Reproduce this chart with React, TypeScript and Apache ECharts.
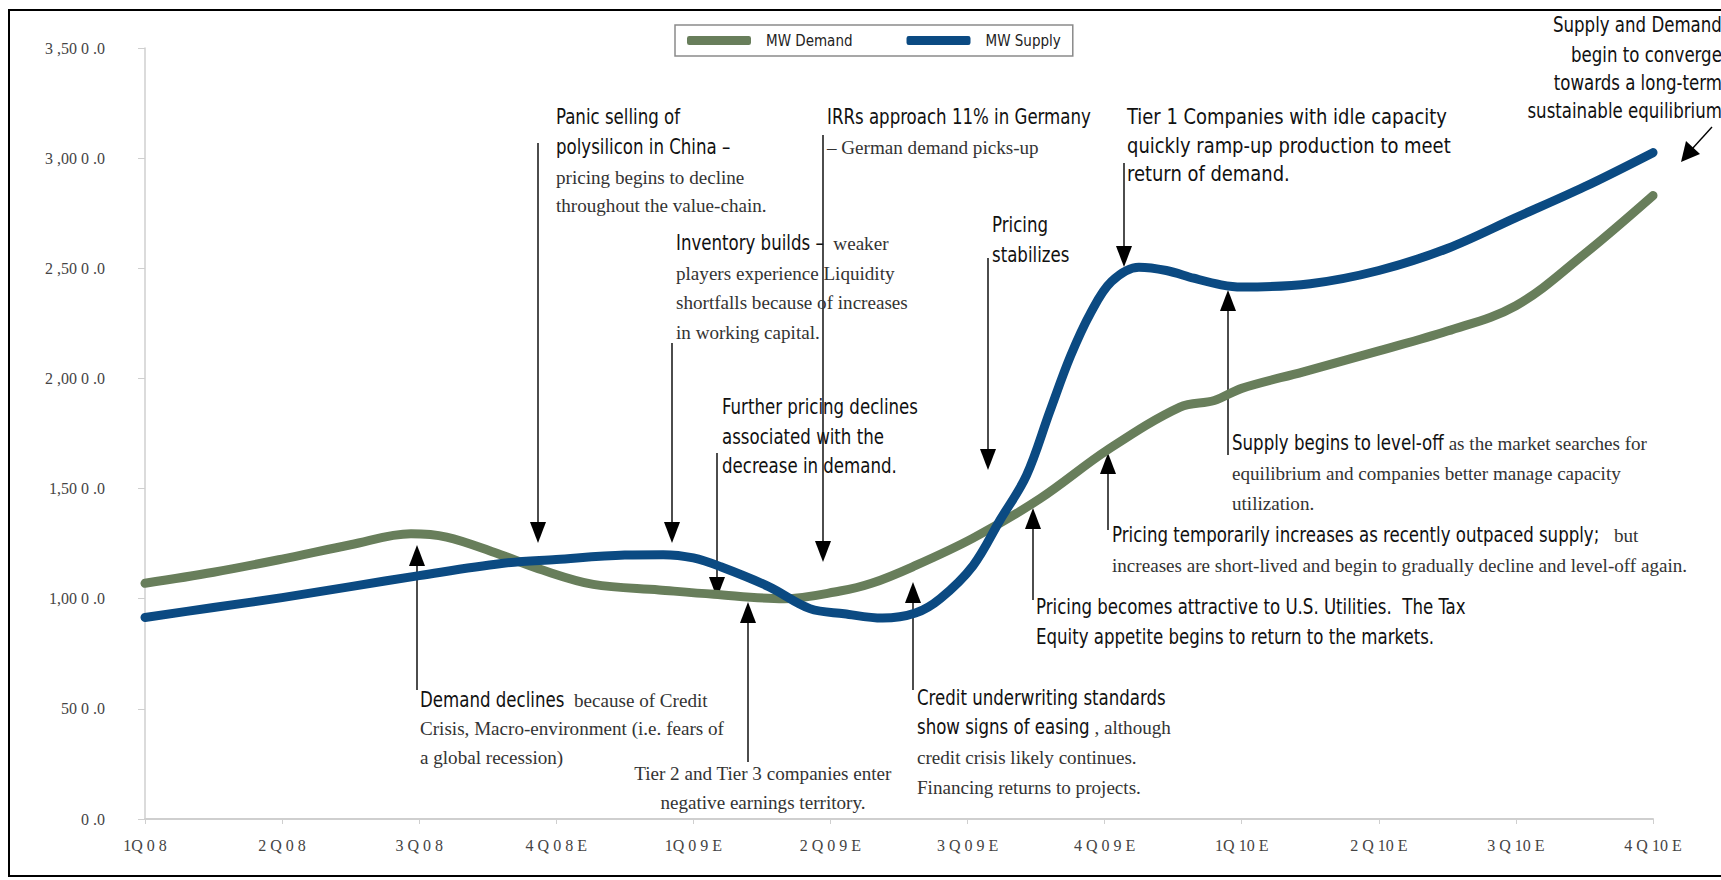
import React, { useEffect, useRef } from "react";
import * as echarts from "echarts";

// ---------- data ----------
const quarterLabels = [
  "1Q 0 8", "2 Q 0 8", "3 Q 0 8", "4 Q 0 8 E", "1Q 0 9 E", "2 Q 0 9 E",
  "3 Q 0 9 E", "4 Q 0 9 E", "1Q 10 E", "2 Q 10 E", "3 Q 10 E", "4 Q 10 E",
];
const yTickValues = [0, 500, 1000, 1500, 2000, 2500, 3000, 3500];
const yTickTexts = ["0 .0", "50 0 .0", "1,00 0 .0", "1,50 0 .0", "2 ,00 0 .0", "2 ,50 0 .0", "3 ,00 0 .0", "3 ,50 0 .0"];

// position in quarters from 1Q08 (0) to 4Q10E (11)
const demandPos = [0, 0.5, 1, 1.5, 1.94, 2.2, 2.55, 2.9, 3.27, 3.75, 4.15, 4.66, 5.07, 5.3, 5.6, 6.04, 6.53, 7.02, 7.55, 7.8, 8, 8.45, 9, 9.5, 10, 10.5, 11];
const demandMW = [1070, 1120, 1180, 1245, 1295, 1280, 1210, 1130, 1065, 1040, 1020, 1000, 1035, 1070, 1145, 1275, 1455, 1675, 1870, 1900, 1955, 2030, 2125, 2215, 2330, 2565, 2830];

const supplyPos = [0, 0.5, 1, 1.5, 2, 2.6, 3, 3.5, 3.78, 4, 4.2, 4.55, 4.85, 5.1, 5.38, 5.62, 5.8, 6.04, 6.24, 6.43, 6.6, 6.75, 6.9, 7.05, 7.25, 7.45, 7.65, 7.85, 8, 8.5, 9, 9.5, 10, 10.5, 11];
const supplyMW = [915, 960, 1005, 1055, 1105, 1160, 1178, 1198, 1200, 1185, 1145, 1055, 955, 932, 912, 935, 1000, 1150, 1360, 1560, 1850, 2100, 2300, 2440, 2505, 2490, 2455, 2425, 2415, 2430, 2490, 2590, 2730, 2870, 3025];

const seriesNames = ["MW Demand", "MW Supply"];
const seriesColors = ["#687e5b", "#0b4a82"];

// ---------- annotation texts ----------
type Seg = [string, string]; // [style, text]  h = headline sans, s = serif
const annPanic: Seg[][] = [[["h", "Panic selling of"]], [["h", "polysilicon in China –"]], [["s", "pricing begins to decline"]], [["s", "throughout the value-chain."]]];
const annIRR: Seg[][] = [[["h", "IRRs approach 11% in Germany"]], [["s", "– German demand picks-up"]]];
const annTier1: Seg[][] = [[["h", "Tier 1 Companies with idle capacity"]], [["h", "quickly ramp-up production to meet"]], [["h", "return of demand."]]];
const annConverge: Seg[][] = [[["h", "Supply and Demand"]], [["h", "begin to converge"]], [["h", "towards a long-term"]], [["h", "sustainable equilibrium"]]];
const annStabil: Seg[][] = [[["h", "Pricing"]], [["h", "stabilizes"]]];
const annInventory: Seg[][] = [[["h", "Inventory builds –"], ["s", "  weaker"]], [["s", "players experience Liquidity"]], [["s", "shortfalls because of increases"]], [["s", "in working capital."]]];
const annFurther: Seg[][] = [[["h", "Further pricing declines"]], [["h", "associated with the"]], [["h", "decrease in demand."]]];
const annLevel: Seg[][] = [[["h", "Supply begins to level-off"], ["s", " as the market searches for"]], [["s", "equilibrium and companies better manage capacity"]], [["s", "utilization."]]];
const annTemp: Seg[][] = [[["h", "Pricing temporarily increases as recently outpaced supply;"], ["s", "   but"]], [["s", "increases are short-lived and begin to gradually decline and level-off again."]]];
const annUtil: Seg[][] = [[["h", "Pricing becomes attractive to U.S. Utilities.  The Tax"]], [["h", "Equity appetite begins to return to the markets."]]];
const annCredit: Seg[][] = [[["h", "Credit underwriting standards"]], [["h", "show signs of easing"], ["s", " , although"]], [["s", "credit crisis likely continues."]], [["s", "Financing returns to projects."]]];
const annDemand: Seg[][] = [[["h", "Demand declines"], ["s", "  because of Credit"]], [["s", "Crisis, Macro-environment (i.e. fears of"]], [["s", "a global recession)"]]];
const annTier2: Seg[][] = [[["s", "Tier 2 and Tier 3 companies enter"]], [["s", "negative earnings territory."]]];

const HFONT = "'Liberation Sans Narrow', 'DejaVu Sans Condensed', 'Roboto Condensed', sans-serif";
const SFONT = "'Liberation Serif', 'DejaVu Serif', serif";
const STYLES: Record<string, { family: string; size: number; fill: string; sx: number }> = {
  h: { family: HFONT, size: 21, fill: "#111", sx: 0.88 },
  s: { family: SFONT, size: 19.5, fill: "#333", sx: 0.98 },
};

let measureCtx: CanvasRenderingContext2D | null = null;
function measure(text: string, st: { family: string; size: number }): number {
  if (!measureCtx) measureCtx = document.createElement("canvas").getContext("2d");
  if (!measureCtx) return text.length * st.size * 0.5;
  measureCtx.font = `${st.size}px ${st.family}`;
  return measureCtx.measureText(text).width;
}

function textBlock(lines: Seg[][], x: number, ys: number[], align: string = "left", hScale?: number): any[] {
  const out: any[] = [];
  lines.forEach((segs, i) => {
    const widths = segs.map(([st, t]) => {
      const s = STYLES[st];
      const sx = st === "h" && hScale ? hScale : s.sx;
      return measure(t, s) * sx;
    });
    const total = widths.reduce((a, b) => a + b, 0);
    let cx = align === "right" ? x - total : align === "center" ? x - total / 2 : x;
    segs.forEach(([st, t], j) => {
      const s = STYLES[st];
      const sx = st === "h" && hScale ? hScale : s.sx;
      out.push({
        type: "text",
        silent: true,
        x: cx,
        y: ys[i],
        scaleX: sx,
        style: {
          x: 0,
          y: 0,
          text: t,
          fontFamily: s.family,
          fontSize: s.size,
          fill: s.fill,
          align: "left",
          verticalAlign: "middle",
        },
      });
      cx += widths[j];
    });
  });
  return out;
}

function arrow(x: number, yFrom: number, yTip: number): any[] {
  const dir = yTip > yFrom ? 1 : -1;
  const hh = 21;
  const hw = 8;
  return [
    { type: "line", silent: true, shape: { x1: x, y1: yFrom, x2: x, y2: yTip - dir * hh }, style: { stroke: "#000", lineWidth: 1.4 } },
    { type: "polygon", silent: true, shape: { points: [[x - hw, yTip - dir * hh], [x + hw, yTip - dir * hh], [x, yTip]] }, style: { fill: "#000" } },
  ];
}

const frameLine = (x1: number, y1: number, x2: number, y2: number) => ({
  type: "line", silent: true, shape: { x1, y1, x2, y2 }, style: { stroke: "#000", lineWidth: 2 },
});

export default function App() {
  const ref = useRef<HTMLDivElement>(null);
  useEffect(() => {
    if (!ref.current) return;
    document.documentElement.style.overflow = "hidden";
    document.body.style.margin = "0";
    const chart = echarts.init(ref.current, undefined, { renderer: "svg" });

    const graphic: any[] = [
      frameLine(8, 10, 1721, 10),
      frameLine(9, 9, 9, 877),
      frameLine(8, 876, 1721, 876),
      ...textBlock(annPanic, 556, [117, 147, 177, 205]),
      ...arrow(538, 143, 543),
      ...textBlock(annIRR, 827, [117, 147]),
      ...arrow(823, 135, 562),
      ...textBlock(annTier1, 1127, [117, 146, 174], "left", 0.95),
      ...arrow(1124, 163, 267),
      ...textBlock(annConverge, 1722, [25, 55, 83, 111], "right"),
      { type: "line", silent: true, shape: { x1: 1712, y1: 127, x2: 1692, y2: 149 }, style: { stroke: "#000", lineWidth: 1.4 } },
      { type: "polygon", silent: true, shape: { points: [[1681, 162], [1686, 141], [1700, 154]] }, style: { fill: "#000" } },
      ...textBlock(annStabil, 992, [225, 255]),
      ...arrow(988, 258, 470),
      ...textBlock(annInventory, 676, [243, 273, 302, 332]),
      ...arrow(672, 343, 543),
      ...textBlock(annFurther, 722, [407, 437, 466]),
      ...arrow(717, 453, 598),
      ...textBlock(annLevel, 1232, [443, 473, 503]),
      ...arrow(1228, 455, 290),
      ...textBlock(annTemp, 1112, [535, 565]),
      ...arrow(1108, 530, 453),
      ...textBlock(annUtil, 1036, [607, 637]),
      ...arrow(1033, 600, 508),
      ...textBlock(annCredit, 917, [698, 727, 757, 787]),
      ...arrow(913, 690, 582),
      ...textBlock(annDemand, 420, [700, 728, 757]),
      ...arrow(417, 690, 545),
      ...textBlock(annTier2, 763, [773, 802], "center"),
      ...arrow(748, 762, 602),
    ];

    const axisFont = { fontFamily: SFONT, fontSize: 16, color: "#444" };

    chart.setOption({
      animation: false,
      backgroundColor: "#fff",
      grid: { left: 145, right: 68, top: 48, bottom: 61, containLabel: false },
      legend: {
        left: 675,
        top: 25,
        padding: [8, 12, 8, 12],
        itemGap: 54,
        itemWidth: 64,
        itemHeight: 9,
        icon: "roundRect",
        borderColor: "#8a8a8a",
        borderWidth: 1.5,
        data: seriesNames,
        textStyle: { fontFamily: HFONT, fontSize: 15, color: "#222", padding: [0, 0, 0, 10] },
      },
      xAxis: {
        type: "value",
        min: 0,
        max: 11,
        interval: 1,
        splitLine: { show: false },
        axisLine: { show: true, lineStyle: { color: "#cfcfcf", width: 2 } },
        axisTick: { show: true, length: 5, lineStyle: { color: "#cfcfcf" } },
        axisLabel: { ...axisFont, margin: 18, formatter: (v: number) => quarterLabels[Math.round(v)] ?? "" },
      },
      yAxis: {
        type: "value",
        min: 0,
        max: 3500,
        interval: 500,
        splitLine: { show: false },
        axisLine: { show: true, lineStyle: { color: "#cfcfcf", width: 1.5 } },
        axisTick: { show: true, length: 7, lineStyle: { color: "#cfcfcf" } },
        axisLabel: { ...axisFont, margin: 40, formatter: (v: number) => yTickTexts[yTickValues.indexOf(v)] ?? "" },
      },
      series: [
        {
          name: seriesNames[0],
          type: "line",
          data: demandPos.map((p, i) => [p, demandMW[i]]),
          smooth: 0.35,
          showSymbol: false,
          symbol: "none",
          lineStyle: { color: seriesColors[0], width: 9, cap: "round", join: "round" },
          itemStyle: { color: seriesColors[0] },
          z: 3,
        },
        {
          name: seriesNames[1],
          type: "line",
          data: supplyPos.map((p, i) => [p, supplyMW[i]]),
          smooth: 0.35,
          showSymbol: false,
          symbol: "none",
          lineStyle: { color: seriesColors[1], width: 9, cap: "round", join: "round" },
          itemStyle: { color: seriesColors[1] },
          z: 4,
        },
      ],
      graphic,
    });
    return () => chart.dispose();
  }, []);
  return (
    <div
      ref={ref}
      style={{ position: "fixed", left: 0, top: 0, width: 1721, height: 880, background: "#fff" }}
    />
  );
}
